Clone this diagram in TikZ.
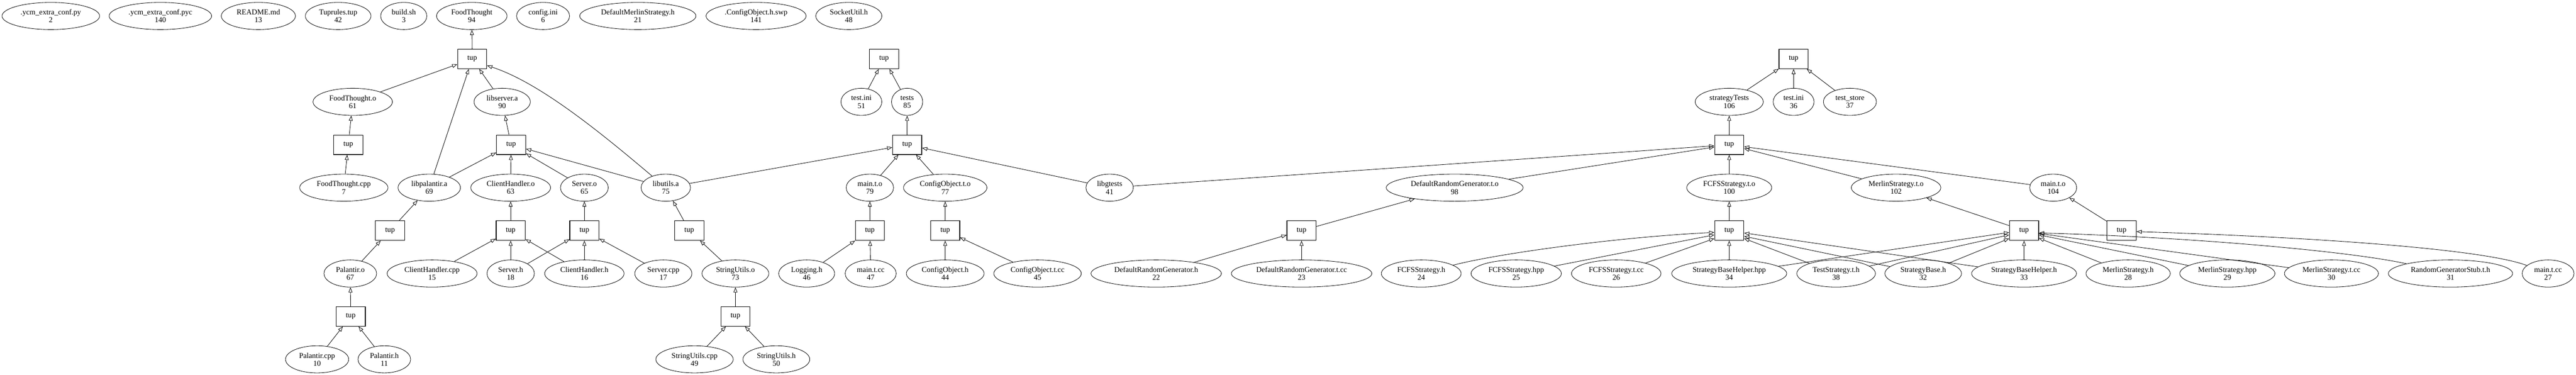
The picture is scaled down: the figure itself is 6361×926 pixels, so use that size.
\documentclass[tikz,border=0pt]{standalone}
\usepackage{fontspec}
\setmainfont{Liberation Serif}
\usetikzlibrary{shapes.geometric,arrows.meta}
\newcommand\mkell[6]{\node[ell, minimum width=#4*0.75pt] (#1) at (#2,#3) {#5\\#6};}
\newcommand\mktup[3]{\node[tupbox] (#1) at (#2,#3) {tup};}
\begin{document}
\begin{tikzpicture}[x=0.75pt,y=-0.75pt,
  every node/.style={font=\fontsize{14pt}{14.5pt}\selectfont},
  ell/.style={ellipse, draw, line width=0.8pt, minimum height=50.25pt, inner sep=0pt, align=center},
  tupbox/.style={rectangle, draw, line width=1.2pt, minimum width=54pt, minimum height=36pt, inner sep=0pt},
  edge/.style={draw, line width=0.8pt, -{Triangle[open,length=9.5pt,width=7pt]}}]
\useasboundingbox (0,0) rectangle (6361,926);
% row 0
\mkell{ycmpy}{125.5}{39.5}{241}{.ycm\_extra\_conf.py}{2}
\mkell{ycmpyc}{396}{39.5}{253}{.ycm\_extra\_conf.pyc}{140}
\mkell{readme}{638}{39.5}{183}{README.md}{13}
\mkell{tuprules}{835}{39.5}{162}{Tuprules.tup}{42}
\mkell{buildsh}{997}{39.5}{114}{build.sh}{3}
\mkell{ftn}{1165}{39.5}{174}{FoodThought}{94}
\mkell{configini}{1341}{39.5}{131}{config.ini}{6}
\mkell{dms}{1575}{39.5}{287}{DefaultMerlinStrategy.h}{21}
\mkell{coswp}{1867}{39.5}{247}{.ConfigObject.h.swp}{141}
\mkell{socketutil}{2096}{39.5}{163}{SocketUtil.h}{48}
% row 1
\mktup{tupFT}{1166}{145.5}
\mktup{tupTT}{2183}{145.5}
\mktup{tupTR}{4429}{145.5}
% row 2
\mkell{ftO}{871}{251.5}{196}{FoodThought.o}{61}
\mkell{libserver}{1240}{251.5}{139}{libserver.a}{90}
\mkell{testiniA}{2127}{251.5}{101}{test.ini}{51}
\mkell{testsE}{2240}{251.5}{77}{tests}{85}
\mkell{strategyTests}{4270}{251.5}{168}{strategyTests}{106}
\mkell{testiniB}{4429}{251.5}{101}{test.ini}{36}
\mkell{teststore}{4568}{251.5}{131}{test\_store}{37}
% row 3
\mktup{tupFTo}{860}{357.5}
\mktup{tupLS}{1262}{357.5}
\mktup{tupTests}{2240}{357.5}
\mktup{tupST}{4270}{357.5}
% row 4
\mkell{ftcpp}{849}{463.5}{218}{FoodThought.cpp}{7}
\mkell{libpal}{1060}{463.5}{154}{libpalantir.a}{69}
\mkell{chO}{1261}{463.5}{197}{ClientHandler.o}{63}
\mkell{serverO}{1443}{463.5}{118}{Server.o}{65}
\mkell{libutils}{1644}{463.5}{122}{libutils.a}{75}
\mkell{maintOA}{2148}{463.5}{117}{main.t.o}{79}
\mkell{coTO}{2334}{463.5}{206}{ConfigObject.t.o}{77}
\mkell{libgtests}{2740}{463.5}{117}{libgtests}{41}
\mkell{drgTO}{3592}{463.5}{338}{DefaultRandomGenerator.t.o}{98}
\mkell{fcfsTO}{4270}{463.5}{210}{FCFSStrategy.t.o}{100}
\mkell{merlinTO}{4682}{463.5}{221}{MerlinStrategy.t.o}{102}
\mkell{maintOB}{5070}{463.5}{116}{main.t.o}{104}
% row 5
\mktup{tupPal}{963}{569.5}
\mktup{tupCH}{1261}{569.5}
\mktup{tupSrv}{1443}{569.5}
\mktup{tupLU}{1702}{569.5}
\mktup{tupMTA}{2148}{569.5}
\mktup{tupCO}{2334}{569.5}
\mktup{tupDRG}{3214}{569.5}
\mktup{tupFCFS}{4270}{569.5}
\mktup{tupMerlin}{4998}{569.5}
\mktup{tupMTB}{5239}{569.5}
% row 6
\mkell{palO}{865}{675.5}{130}{Palantir.o}{67}
\mkell{chcpp}{1067}{675.5}{222}{ClientHandler.cpp}{15}
\mkell{serverh}{1261}{675.5}{117}{Server.h}{18}
\mkell{chh}{1443}{675.5}{196}{ClientHandler.h}{16}
\mkell{servercpp}{1638}{675.5}{141}{Server.cpp}{17}
\mkell{suO}{1816}{675.5}{165}{StringUtils.o}{73}
\mkell{loggingh}{1992}{675.5}{138}{Logging.h}{46}
\mkell{maintccA}{2150}{675.5}{126}{main.t.cc}{47}
\mkell{coh}{2334}{675.5}{192}{ConfigObject.h}{44}
\mkell{cotcc}{2562}{675.5}{216}{ConfigObject.t.cc}{45}
\mkell{drgh}{2855}{675.5}{322}{DefaultRandomGenerator.h}{22}
\mkell{drgtcc}{3214}{675.5}{347}{DefaultRandomGenerator.t.cc}{23}
\mkell{fcfsh}{3509.5}{675.5}{197}{FCFSStrategy.h}{24}
\mkell{fcfshpp}{3744}{675.5}{223}{FCFSStrategy.hpp}{25}
\mkell{fcfstcc}{3991}{675.5}{221}{FCFSStrategy.t.cc}{26}
\mkell{sbhhpp}{4270}{675.5}{284}{StrategyBaseHelper.hpp}{34}
\mkell{tsth}{4534}{675.5}{194}{TestStrategy.t.h}{38}
\mkell{sbh}{4749}{675.5}{189}{StrategyBase.h}{32}
\mkell{sbhh}{4998}{675.5}{259}{StrategyBaseHelper.h}{33}
\mkell{msh}{5255}{675.5}{208}{MerlinStrategy.h}{28}
\mkell{mshpp}{5500}{675.5}{235}{MerlinStrategy.hpp}{29}
\mkell{mstcc}{5757}{675.5}{232}{MerlinStrategy.t.cc}{30}
\mkell{rgs}{6051}{675.5}{307}{RandomGeneratorStub.t.h}{31}
\mkell{maintccB}{6292}{675.5}{128}{main.t.cc}{27}
% row 7
\mktup{tupPalantir}{866}{781.5}
\mktup{tupSU}{1816}{781.5}
% row 8
\mkell{palcpp}{783}{887.5}{156}{Palantir.cpp}{10}
\mkell{palh}{949}{887.5}{130}{Palantir.h}{11}
\mkell{sucpp}{1715}{887.5}{191}{StringUtils.cpp}{49}
\mkell{suh}{1917}{887.5}{165}{StringUtils.h}{50}
% edges, left component
\draw[edge] (tupFT) -- (ftn);
\draw[edge] (ftO) -- (tupFT);
\draw[edge] (libpal) -- (tupFT);
\draw[edge] (libserver) -- (tupFT);
\draw[edge] (libutils) .. controls (1480,324.5) and (1330,202.8) .. (tupFT.336);
\draw[edge] (tupFTo) -- (ftO);
\draw[edge] (ftcpp) -- (tupFTo);
\draw[edge] (tupPal) -- (libpal);
\draw[edge] (palO) -- (tupPal);
\draw[edge] (tupPalantir) -- (palO);
\draw[edge] (palcpp) -- (tupPalantir);
\draw[edge] (palh) -- (tupPalantir);
\draw[edge] (tupLS) -- (libserver);
\draw[edge] (libpal) -- (tupLS);
\draw[edge] (chO) -- (tupLS);
\draw[edge] (serverO) -- (tupLS);
\draw[edge] (libutils) -- (tupLS);
\draw[edge] (tupCH) -- (chO);
\draw[edge] (chcpp) -- (tupCH);
\draw[edge] (serverh) -- (tupCH);
\draw[edge] (chh) -- (tupCH);
\draw[edge] (serverh) -- (tupSrv);
\draw[edge] (chh) -- (tupSrv);
\draw[edge] (servercpp) -- (tupSrv);
\draw[edge] (tupSrv) -- (serverO);
\draw[edge] (tupLU) -- (libutils);
\draw[edge] (suO) -- (tupLU);
\draw[edge] (tupSU) -- (suO);
\draw[edge] (sucpp) -- (tupSU);
\draw[edge] (suh) -- (tupSU);
\draw[edge] (libutils) -- (tupTests);
\draw[edge] (testiniA) -- (tupTT);
\draw[edge] (testsE) -- (tupTT);
\draw[edge] (tupTests) -- (testsE);
\draw[edge] (maintOA) -- (tupTests);
\draw[edge] (coTO) -- (tupTests);
\draw[edge] (libgtests) -- (tupTests);
\draw[edge] (tupMTA) -- (maintOA);
\draw[edge] (loggingh) -- (tupMTA);
\draw[edge] (maintccA) -- (tupMTA);
\draw[edge] (tupCO) -- (coTO);
\draw[edge] (coh) -- (tupCO);
\draw[edge] (cotcc) -- (tupCO);
% edges, right component
\draw[edge] (libgtests) -- (tupST);
\draw[edge] (drgTO) -- (tupST);
\draw[edge] (fcfsTO) -- (tupST);
\draw[edge] (merlinTO) -- (tupST);
\draw[edge] (maintOB) -- (tupST);
\draw[edge] (tupST) -- (strategyTests);
\draw[edge] (strategyTests) -- (tupTR);
\draw[edge] (testiniB) -- (tupTR);
\draw[edge] (teststore) -- (tupTR);
\draw[edge] (tupDRG) -- (drgTO);
\draw[edge] (drgh) -- (tupDRG);
\draw[edge] (drgtcc) -- (tupDRG);
\draw[edge] (tupFCFS) -- (fcfsTO);
\draw[edge] (fcfsh) .. controls (3700,625.7) and (4000,585.2) .. (tupFCFS.187);
\draw[edge] (fcfshpp) -- (tupFCFS.196);
\draw[edge] (fcfstcc) -- (tupFCFS.208);
\draw[edge] (sbhhpp) -- (tupFCFS);
\draw[edge] (tsth) -- (tupFCFS.332);
\draw[edge] (sbh) -- (tupFCFS.339);
\draw[edge] (sbhh) -- (tupFCFS.351);
\draw[edge] (tupMerlin) -- (merlinTO);
\draw[edge] (sbhhpp) -- (tupMerlin.187);
\draw[edge] (tsth) -- (tupMerlin.196);
\draw[edge] (sbh) -- (tupMerlin.208);
\draw[edge] (sbhh) -- (tupMerlin);
\draw[edge] (msh) -- (tupMerlin.333);
\draw[edge] (mshpp) -- (tupMerlin.344);
\draw[edge] (mstcc) -- (tupMerlin.349);
\draw[edge] (rgs) .. controls (5800,619.9) and (5400,585.2) .. (tupMerlin.351);
\draw[edge] (tupMTB) -- (maintOB);
\draw[edge] (maintccB) .. controls (6130,614.1) and (5700,585.2) .. (tupMTB.356);
\end{tikzpicture}
\end{document}
